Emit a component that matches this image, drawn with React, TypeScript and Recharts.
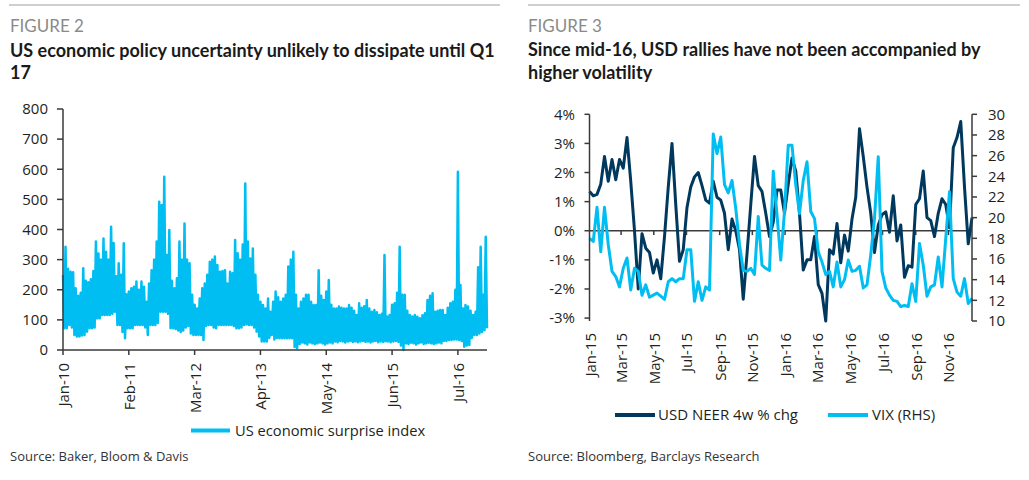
import React from 'react';
import { LineChart, Line, XAxis, YAxis, ReferenceLine } from 'recharts';

const CYAN = '#00BEF2';
const NAVY = '#00395D';
const AXIS = '#3a3a3a';
const TEXT = '#231F20';
const FONT = '"Open Sans", "Noto Sans", sans-serif';
const HEAD_FONT = 'Lato, "Open Sans", sans-serif';

const MONTHS = ['Jan', 'Feb', 'Mar', 'Apr', 'May', 'Jun', 'Jul', 'Aug', 'Sep', 'Oct', 'Nov', 'Dec'];

// Figure 2: daily index drawn as half-month highs and lows, Jan-10 .. Dec-16
const epuHigh = [
  249, 343, 270, 260, 258, 205, 180, 190, 271, 230,
  225, 235, 262, 360, 320, 300, 370, 326, 300, 409,
  355, 245, 288, 250, 354, 185, 194, 205, 210, 227,
  200, 227, 210, 160, 221, 265, 300, 360, 492, 481,
  575, 315, 398, 230, 205, 238, 360, 300, 420, 300,
  288, 183, 150, 138, 171, 205, 221, 250, 293, 300,
  310, 282, 260, 262, 265, 221, 260, 255, 365, 321,
  300, 350, 553, 360, 304, 337, 250, 183, 160, 149,
  138, 171, 127, 160, 194, 175, 160, 171, 183, 277,
  300, 326, 183, 138, 160, 171, 183, 183, 160, 149,
  149, 265, 180, 166, 194, 232, 150, 138, 138, 144,
  140, 138, 138, 149, 140, 130, 116, 155, 140, 145,
  166, 138, 127, 133, 125, 116, 120, 315, 111, 116,
  150, 155, 190, 343, 183, 183, 130, 116, 111, 116,
  110, 105, 115, 122, 166, 180, 188, 127, 130, 133,
  133, 116, 140, 155, 160, 200, 592, 216, 138, 149,
  144, 130, 116, 127, 275, 343, 183, 376,
];
const epuLow = [
  72, 72, 83, 75, 50, 45, 45, 48, 50, 61,
  72, 72, 75, 105, 105, 116, 116, 116, 116, 120,
  127, 83, 83, 60, 39, 72, 72, 72, 83, 83,
  83, 83, 75, 50, 83, 83, 83, 90, 127, 127,
  127, 120, 72, 72, 70, 65, 60, 65, 75, 80,
  55, 50, 50, 50, 50, 33, 80, 83, 83, 75,
  72, 83, 83, 83, 83, 83, 83, 80, 72, 72,
  75, 83, 85, 83, 83, 75, 61, 45, 28, 28,
  28, 40, 50, 35, 40, 39, 39, 39, 39, 39,
  39, 10, 6, 20, 25, 22, 18, 25, 22, 20,
  22, 25, 22, 18, 22, 25, 22, 28, 26, 30,
  28, 25, 28, 30, 27, 28, 26, 28, 30, 27,
  28, 25, 28, 30, 26, 28, 27, 29, 28, 26,
  28, 30, 27, 15, 0, 22, 20, 24, 22, 18,
  22, 25, 20, 22, 24, 22, 20, 22, 25, 22,
  30, 30, 33, 33, 35, 35, 33, 30, 11, 15,
  17, 40, 50, 50, 55, 60, 66, 72,
];
const epuTickLabels = ['Jan-10', 'Feb-11', 'Mar-12', 'Apr-13', 'May-14', 'Jun-15', 'Jul-16'];
const epuYTicks = [0, 100, 200, 300, 400, 500, 600, 700, 800];

// Figure 3: weekly from 1 Jan 2015
const neer = [
  1.35, 1.2, 1.25, 1.6, 2.55, 1.7, 2.45, 1.75, 2.45, 2.15,
  3.2, 1.7, 0.0, -2.0, -0.1, -0.6, -0.75, -1.45, -1.0, -1.65,
  -0.2, 1.5, 3.0, 0.9, -1.05, -0.65, 0.8, 1.5, 1.85, 2.0,
  1.55, 1.05, 0.95, 1.7, 1.15, 1.05, 0.6, -0.65, 0.4, 0.0,
  -0.65, -2.35, -0.8, 0.9, 2.55, 1.55, 1.35, 0.6, -0.2, 0.3,
  1.4, 1.4, 0.6, 1.6, 2.5, 2.05, 0.6, -1.35, -1.0, -1.0,
  -0.2, -1.85, -2.15, -3.1, -0.65, -0.8, 0.25, -1.1, -0.15, -0.7,
  0.4, 1.15, 3.5, 2.55, 1.5, 0.6, -0.75, 0.2, 0.55, 0.65,
  -0.05, 1.2, -0.35, 0.2, -1.6, -1.2, -1.25, 0.9, 1.1, 2.05,
  0.45, 0.35, -0.2, 0.6, 1.1, 0.9, 0.1, 2.85, 3.2, 3.75,
  1.5, -0.45, 0.45,
];
const vix = [
  18.0, 17.7, 21.0, 16.7, 21.0, 17.4, 14.8, 14.3, 13.3, 15.1,
  16.1, 13.0, 15.1, 14.8, 12.5, 13.5, 12.3, 12.5, 12.7, 12.4,
  12.1, 13.8, 14.1, 13.8, 14.1, 14.1, 16.9, 16.9, 11.9, 13.8,
  12.0, 13.3, 13.0, 28.1, 26.2, 27.8, 23.2, 22.4, 23.6, 20.9,
  17.4, 14.9, 14.8, 15.1, 14.5, 20.1, 15.4, 15.1, 14.9, 24.5,
  20.3, 15.9, 20.6, 27.0, 27.0, 23.2, 20.4, 23.6, 25.4, 20.6,
  19.9, 16.7, 15.7, 14.5, 14.8, 13.3, 15.7, 13.3, 14.0, 15.9,
  14.8, 14.9, 15.3, 13.2, 13.5, 16.4, 19.9, 25.9, 14.8, 13.2,
  12.5, 12.0, 11.9, 11.4, 11.5, 11.4, 13.6, 11.9, 17.5, 15.4,
  12.4, 13.3, 13.5, 16.2, 13.3, 18.0, 22.5, 14.1, 12.8, 12.4,
  14.1, 11.7, 12.2,
];
const fxTickLabels = ['Jan-15', 'Mar-15', 'May-15', 'Jul-15', 'Sep-15', 'Nov-15', 'Jan-16', 'Mar-16', 'May-16', 'Jul-16', 'Sep-16', 'Nov-16'];
const pctTicks = [-3, -2, -1, 0, 1, 2, 3, 4];
const vixTicks = [10, 12, 14, 16, 18, 20, 22, 24, 26, 28, 30];

const parseLabel = (s: string) => {
  const [mon, yy] = s.split('-');
  return { month: MONTHS.indexOf(mon), year: 2000 + Number(yy) };
};

// tick positions in months from Jan-10
const epuTicks = epuTickLabels.map((s) => {
  const { month, year } = parseLabel(s);
  return (year - 2010) * 12 + month;
});

// tick positions in weeks from 1 Jan 2015
const fxTicks = fxTickLabels.map((s) => {
  const { month, year } = parseLabel(s);
  return (Date.UTC(year, month, 1) - Date.UTC(2015, 0, 1)) / (7 * 86400000);
});

const epuData: { m: number; v: number }[] = [];
epuHigh.forEach((hi, h) => {
  epuData.push({ m: h / 2, v: hi });
  epuData.push({ m: h / 2 + 0.25, v: epuLow[h] });
});

const fxData = neer.map((n, i) => ({ w: i, neer: n, vix: vix[i] }));

const rotatedTick = (ticks: number[], labels: string[]) => (props: any) => {
  const { x, y, payload } = props;
  const idx = ticks.findIndex((t) => Math.abs(t - payload.value) < 1e-6);
  return (
    <g>
      <text
        x={x}
        y={y}
        transform={`rotate(-90 ${x} ${y})`}
        textAnchor="end"
        dominantBaseline="central"
        fill={TEXT}
        fontSize={15}
        fontFamily={FONT}
      >
        {labels[idx]}
      </text>
    </g>
  );
};

const axisStyle = { stroke: AXIS, strokeWidth: 1.5 };
const tickText = { fill: TEXT, fontSize: 15, fontFamily: FONT };

export default function App() {
  return (
    <div style={{ position: 'absolute', left: 0, top: 0, width: 1029, height: 480, background: '#fff', overflow: 'hidden' }}>
      <svg width={1029} height={480} style={{ position: 'absolute', left: 0, top: 0 }}>
        <line x1={9} y1={5} x2={500} y2={5} stroke="#a0a0a0" strokeWidth={1.2} />
        <line x1={528} y1={5} x2={1020} y2={5} stroke="#a0a0a0" strokeWidth={1.2} />
        <g fontFamily={HEAD_FONT}>
          <text x={10} y={31.5} fontSize={17} fill="#8a8a8a">FIGURE 2</text>
          <text x={10} y={56.5} fontSize={18} fontWeight={700} fill="#1a1a1a">
            US economic policy uncertainty unlikely to dissipate until Q1
          </text>
          <text x={10} y={78.5} fontSize={18} fontWeight={700} fill="#1a1a1a">17</text>
          <text x={528} y={31.5} fontSize={17} fill="#8a8a8a">FIGURE 3</text>
          <text x={528} y={56} fontSize={18} fontWeight={700} fill="#1a1a1a">
            Since mid-16, USD rallies have not been accompanied by
          </text>
          <text x={528} y={78.5} fontSize={18} fontWeight={700} fill="#1a1a1a">higher volatility</text>
        </g>
        <g fontFamily={FONT} fill={TEXT}>
          <line x1={191} y1={430.5} x2={230} y2={430.5} stroke={CYAN} strokeWidth={4} />
          <text x={235} y={435.5} fontSize={14.7}>US economic surprise index</text>
          <line x1={615} y1={415} x2={655} y2={415} stroke={NAVY} strokeWidth={4} />
          <text x={658} y={420} fontSize={15}>USD NEER 4w % chg</text>
          <line x1={828} y1={415} x2={868} y2={415} stroke={CYAN} strokeWidth={4} />
          <text x={872} y={420} fontSize={15}>VIX (RHS)</text>
          <text x={10} y={460.5} fontSize={13} fill="#333">Source: Baker, Bloom &amp; Davis</text>
          <text x={528} y={461} fontSize={13} fill="#333">Source: Bloomberg, Barclays Research</text>
        </g>
      </svg>

      <div style={{ position: 'absolute', left: 0, top: 90 }}>
        <LineChart width={500} height={350} data={epuData} margin={{ top: 19, right: 13, left: 13, bottom: 0 }}>
          <XAxis
            dataKey="m"
            type="number"
            domain={[0, 83.75]}
            ticks={epuTicks}
            interval={0}
            height={90}
            tickSize={5}
            tickMargin={8}
            axisLine={axisStyle}
            tickLine={axisStyle}
            tick={rotatedTick(epuTicks, epuTickLabels)}
          />
          <YAxis
            domain={[0, 800]}
            ticks={epuYTicks}
            interval={0}
            width={50}
            tickSize={6}
            tickMargin={9}
            axisLine={axisStyle}
            tickLine={axisStyle}
            tick={tickText}
          />
          <Line
            dataKey="v"
            stroke={CYAN}
            strokeWidth={2.5}
            strokeLinejoin="round"
            dot={false}
            activeDot={false}
            isAnimationActive={false}
          />
        </LineChart>
      </div>

      <div style={{ position: 'absolute', left: 515, top: 90 }}>
        <LineChart width={514} height={331} data={fxData} margin={{ top: 24.3, right: 12, left: 14.5, bottom: 0 }}>
          <XAxis
            dataKey="w"
            type="number"
            domain={[0, 102]}
            ticks={fxTicks}
            interval={0}
            height={100}
            axisLine={false}
            tickLine={false}
            tickSize={0}
            tickMargin={12}
            tick={rotatedTick(fxTicks, fxTickLabels)}
          />
          <YAxis
            yAxisId="left"
            domain={[-3, 4]}
            ticks={pctTicks}
            interval={0}
            tickFormatter={(v: number) => `${v}%`}
            width={60}
            tickSize={5}
            tickMargin={9.5}
            axisLine={axisStyle}
            tickLine={axisStyle}
            tick={tickText}
          />
          <YAxis
            yAxisId="right"
            orientation="right"
            domain={[10, 30]}
            ticks={vixTicks}
            interval={0}
            width={45}
            tickSize={5}
            tickMargin={11}
            axisLine={axisStyle}
            tickLine={axisStyle}
            tick={tickText}
          />
          <ReferenceLine yAxisId="left" y={0} stroke={AXIS} strokeWidth={1.5} />
          {fxTicks.slice(1).map((t) => (
            <ReferenceLine
              key={t}
              yAxisId="left"
              segment={[{ x: t, y: 0 }, { x: t, y: -0.15 }]}
              stroke={AXIS}
              strokeWidth={1.5}
            />
          ))}
          <Line
            yAxisId="left"
            dataKey="neer"
            stroke={NAVY}
            strokeWidth={3}
            strokeLinejoin="round"
            dot={false}
            activeDot={false}
            isAnimationActive={false}
          />
          <Line
            yAxisId="right"
            dataKey="vix"
            stroke={CYAN}
            strokeWidth={3}
            strokeLinejoin="round"
            dot={false}
            activeDot={false}
            isAnimationActive={false}
          />
        </LineChart>
      </div>
    </div>
  );
}
